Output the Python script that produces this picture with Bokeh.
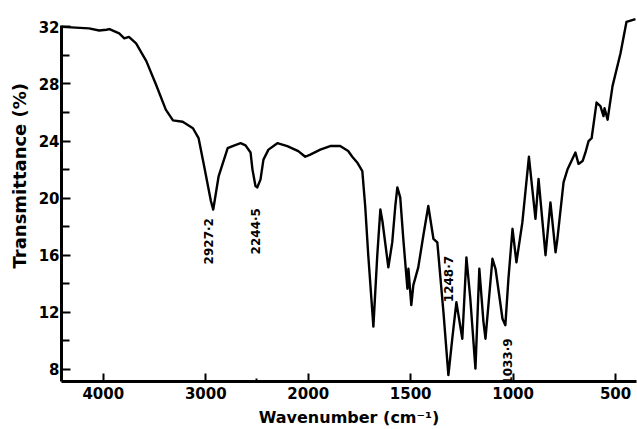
import numpy as np
from bokeh.plotting import figure
from bokeh.models import Range1d, FixedTicker, Label, ColumnDataSource, Title
from bokeh.embed import file_html
from bokeh.resources import INLINE

# IR spectrum (wavenumber in cm^-1, transmittance in %)
wavenumber = [4400, 4140, 4040, 3970, 3940, 3845, 3795, 3750, 3680, 3580, 3485, 3390, 3320, 3225,
              3125, 3070, 3020, 2950, 2927, 2874, 2786, 2738, 2660, 2612, 2563, 2544, 2515, 2498,
              2466, 2437, 2388, 2301, 2204, 2097, 2029, 1990, 1941, 1893, 1844, 1805, 1785, 1761,
              1736, 1722, 1707, 1682, 1663, 1648, 1638, 1609, 1590, 1575, 1565, 1551, 1536, 1516,
              1511, 1497, 1487, 1463, 1438, 1414, 1389, 1370, 1340, 1316, 1297, 1277, 1248, 1228,
              1209, 1184, 1165, 1145, 1135, 1101, 1086, 1052, 1038, 1023, 1003, 984, 955, 923,
              891, 876, 842, 818, 793, 784, 754, 735, 696, 681, 661, 647, 632, 617, 593, 574,
              559, 554, 539, 515, 476, 447, 403]
transmittance = [32.0, 31.9, 31.75, 31.8, 31.85, 31.55, 31.2, 31.3, 30.85, 29.6, 27.95, 26.2, 25.45,
                 25.35, 24.9, 24.2, 22.4, 19.8, 19.2, 21.55, 23.5, 23.65, 23.85, 23.7, 23.2, 22.0,
                 20.85, 20.75, 21.3, 22.7, 23.4, 23.85, 23.65, 23.3, 22.9, 23.05, 23.4, 23.65, 23.65,
                 23.3, 22.9, 22.5, 21.9, 19.45, 16.0, 11.0, 16.0, 19.2, 18.4, 15.15, 16.9, 19.45,
                 20.75, 20.05, 17.15, 13.65, 15.05, 12.5, 13.9, 15.15, 17.4, 19.45, 17.15, 16.9,
                 12.0, 7.6, 10.15, 12.7, 10.15, 15.85, 12.95, 8.05, 15.05, 11.35, 10.15, 15.75,
                 15.05, 11.55, 11.1, 14.35, 17.85, 15.5, 18.3, 22.9, 18.55, 21.35, 16.0, 19.7, 16.2,
                 17.15, 21.1, 22.0, 23.2, 22.4, 22.6, 23.2, 24.0, 24.2, 26.7, 26.45, 25.75, 26.3,
                 25.5, 27.85, 30.15, 32.35, 32.55]

x_tick_values = [4000, 3000, 2000, 1500, 1000, 500]
x_tick_labels = ["4000", "3000", "2000", "1500", "1000", "500"]
x_minor_values = [2500]
y_tick_values = [8, 12, 16, 20, 24, 28, 32]
y_minor_values = [10, 14, 18, 22, 26, 30]

peak_labels = ["2927·2", "2244·5", "1248·7", "1033·9"]
peak_label_wn = [2970, 2508, 1314, 1026]
peak_label_t = [16.98, 17.68, 14.33, 8.55]


def scale_break(w):
    # spectrometer chart: above 2000 cm^-1 the scale is compressed by a factor of 2
    w = np.asarray(w, dtype=float)
    return np.where(w > 2000, 2000 + (w - 2000) / 2.0, w)


FONT = "DejaVu Sans"

p = figure(width=637, height=429, output_backend="svg", toolbar_location=None,
           x_range=Range1d(scale_break(4408).item(), 398), y_range=Range1d(7.15, 32.8),
           min_border_left=60, min_border_right=1, min_border_top=15, min_border_bottom=46)
p.outline_line_color = None
p.xgrid.visible = False
p.ygrid.visible = False
p.background_fill_color = "white"
p.border_fill_color = "white"

src = ColumnDataSource(dict(x=scale_break(wavenumber), y=transmittance))
p.line("x", "y", source=src, line_color="black", line_width=2.4, line_join="round")

xt = [float(v) for v in scale_break(x_tick_values)]
p.xaxis.ticker = FixedTicker(ticks=xt, minor_ticks=[float(v) for v in scale_break(x_minor_values)])
p.xaxis.major_label_overrides = {v: s for v, s in zip(xt, x_tick_labels)}
p.yaxis.ticker = FixedTicker(ticks=y_tick_values, minor_ticks=y_minor_values)
p.yaxis.bounds = (7.15, 32.1)

for ax in (p.xaxis, p.yaxis):
    ax.axis_line_width = 3
    ax.axis_line_color = "black"
    ax.major_tick_line_width = 2
    ax.minor_tick_line_width = 2
    ax.major_tick_out = 0
    ax.minor_tick_out = 0
    ax.major_label_text_font = FONT
    ax.major_label_text_font_style = "bold"
    ax.major_label_text_font_size = "15px"
    ax.major_label_text_color = "black"

p.xaxis.major_tick_in = 8
p.xaxis.minor_tick_in = 3
p.xaxis.major_label_standoff = 5
p.yaxis.major_tick_in = 9
p.yaxis.minor_tick_in = 8
p.yaxis.major_label_standoff = 2

p.xaxis.axis_label = "Wavenumber (cm⁻¹)"
p.xaxis.axis_label_text_font = FONT
p.xaxis.axis_label_text_font_style = "bold"
p.xaxis.axis_label_text_font_size = "16px"
p.xaxis.axis_label_text_color = "black"
p.xaxis.axis_label_standoff = 6

ytitle = Title(text="Transmittance (%)", align="left", offset=113, text_font=FONT,
               text_font_style="bold", text_font_size="18px", text_color="black",
               standoff=12)
p.add_layout(ytitle, "left")

for txt, w, t in zip(peak_labels, peak_label_wn, peak_label_t):
    p.add_layout(Label(x=scale_break(w).item(), y=t, text=txt, angle=np.pi / 2,
                       text_align="center", text_baseline="middle", text_font=FONT,
                       text_font_style="bold", text_font_size="12px", text_color="black"))

open("out.html", "w").write(file_html(p, INLINE))
